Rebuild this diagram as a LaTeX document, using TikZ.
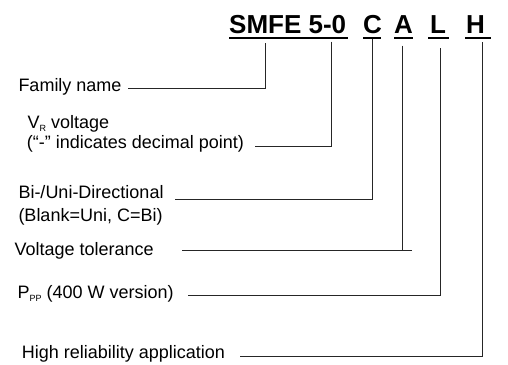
\documentclass[tikz,border=0pt]{standalone}
\usepackage{fontspec}
\setmainfont{Liberation Sans}
\begin{document}
\begin{tikzpicture}[x=1pt,y=-1pt,
  lbl/.style={anchor=base west,inner sep=0pt,font=\fontsize{18}{20}\selectfont},
  ttl/.style={anchor=base west,inner sep=0pt,font=\fontsize{26}{28}\selectfont\bfseries},
  uline/.style={line width=1.7pt},
  conn/.style={line width=1pt,color=black!85}]
\useasboundingbox (0,0) rectangle (508,364);
\newcommand{\subsc}[1]{\raisebox{-3.5pt}{\fontsize{9}{9}\selectfont #1}}
% title
\node[ttl] (tfam) at (229,33.3) {SMFE 5-0};
\node[ttl] (tc) at (363,33.3) {C};
\node[ttl] (ta) at (394,33.3) {A};
\node[ttl] (tl) at (430,33.3) {L};
\node[ttl] (th) at (466,33.3) {H};
\draw[uline] (229,38.2) -- (348,38.2);
\draw[uline] (363.3,38.2) -- (381,38.2);
\draw[uline] (394,38.2) -- (412.7,38.2);
\draw[uline] (428.3,38.2) -- (449.3,38.2);
\draw[uline] (465,38.2) -- (491,38.2);
% labels
\node[lbl] (fam) at (18.3,91.7) {Family name};
\node[lbl] (vr) at (27.3,128.3) {V\subsc{R} voltage};
\node[lbl] (vr2) at (26.7,148.3) {(“-” indicates decimal point)};
\node[lbl] (bi) at (18.3,198.3) {Bi-/Uni-Directional};
\node[lbl] (bi2) at (18.3,221.7) {(Blank=Uni, C=Bi)};
\node[lbl] (vt) at (14.3,255) {Voltage tolerance};
\node[lbl] (pp) at (17.3,298.3) {P\subsc{PP} (400 W version)};
\node[lbl] (hr) at (21.7,358.3) {High reliability application};
% connector coordinates
\coordinate (famtop) at (265.7,43.3);
\coordinate (famcorner) at (265.7,88.3);
\coordinate (famend) at (128.3,88.3);
\coordinate (vrtop) at (331,41.7);
\coordinate (vrcorner) at (331,146);
\coordinate (vrend) at (255,146);
\coordinate (ctop) at (372.7,38.5);
\coordinate (ccorner) at (372.7,199.3);
\coordinate (cend) at (175,199.3);
\coordinate (atop) at (402.7,45.7);
\coordinate (acorner) at (402.7,250.7);
\coordinate (aover) at (412,250.7);
\coordinate (aend) at (182,250.7);
\coordinate (ltop) at (440,48);
\coordinate (lcorner) at (440,295);
\coordinate (lend) at (188.3,295);
\coordinate (htop) at (482.7,42.3);
\coordinate (hcorner) at (482.7,356);
\coordinate (hend) at (240,356);
\draw[conn] (famtop) -- (famcorner) -- (famend);
\draw[conn] (vrtop) -- (vrcorner) -- (vrend);
\draw[conn] (ctop) -- (ccorner) -- (cend);
\draw[conn] (atop) -- (acorner);
\draw[conn] (aover) -- (aend);
\draw[conn] (ltop) -- (lcorner) -- (lend);
\draw[conn] (htop) -- (hcorner) -- (hend);
\end{tikzpicture}
\end{document}
